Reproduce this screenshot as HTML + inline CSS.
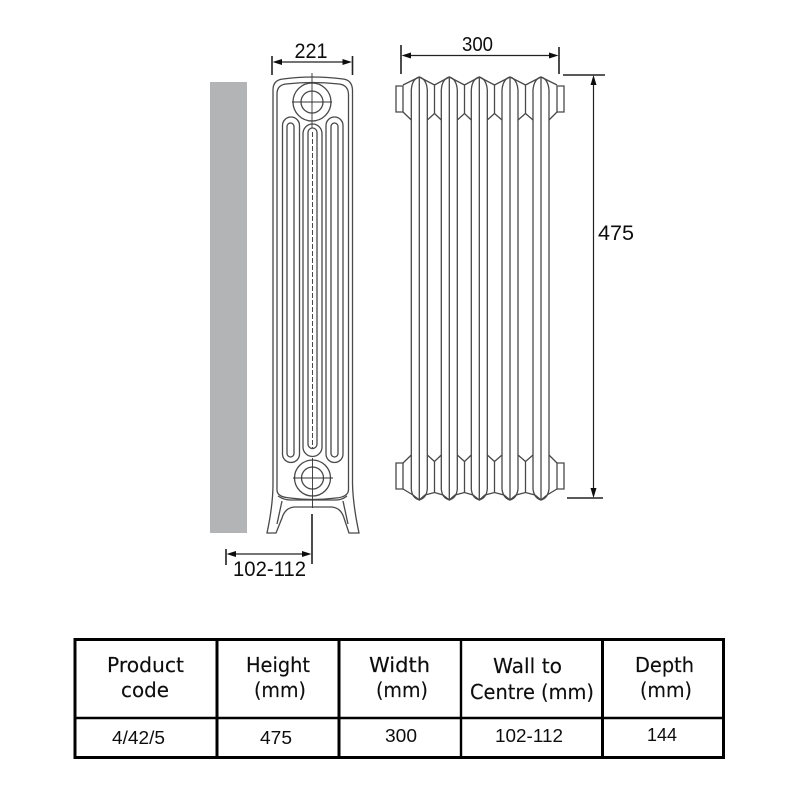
<!DOCTYPE html>
<html>
<head>
<meta charset="utf-8">
<style>
html,body{margin:0;padding:0;background:#fff}
svg{display:block}
.d{font-family:"Liberation Sans",sans-serif;fill:#111}
.h{font-family:"DejaVu Sans",sans-serif;font-size:20px;fill:#111;stroke:#111;stroke-width:.15}
.b{font-family:"Liberation Sans",sans-serif;font-size:18.500px;fill:#111}
.l{fill:none;stroke:#484848;stroke-width:1.3}
.dim{fill:none;stroke:#222;stroke-width:1.2}
.tick{fill:none;stroke:#222;stroke-width:1.6}
.a{fill:#111;stroke:none}
.t{fill:none;stroke:#000;stroke-width:3}
</style>
</head>
<body>
<svg width="800" height="800" viewBox="0 0 800 800" xmlns="http://www.w3.org/2000/svg">
<defs><filter id="s" filterUnits="userSpaceOnUse" x="0" y="0" width="800" height="800"><feGaussianBlur stdDeviation="0.35"/></filter></defs>
<rect width="800" height="800" fill="#fff"/>
<g filter="url(#s)">
<rect x="210" y="82" width="37" height="451" fill="#b3b4b6"/>

<!-- side view -->
<g class="l">
<path d="M273 484V90Q273 80 283 79Q312 75 343 79Q352 80 352.500 90V484"/>
<path d="M277 490V94Q277 85 286 84Q312 81 339 84Q348 85 348.500 94V490"/>
<path d="M277 490Q277 497 290 498Q312 501 336 498Q348 497 348.500 490"/>
<path d="M278 496Q284 500 290 500H336Q342 500 347 496"/>
<circle cx="312" cy="102" r="19"/><circle cx="312" cy="102" r="11"/>
<circle cx="312.500" cy="478" r="18"/><circle cx="312.500" cy="478" r="11"/>
<path d="M282.500 125.500A8.500 8.500 0 0 1 299.500 125.500V454A8.500 8.500 0 0 1 282.500 454Z"/>
<path d="M287 126.500A3.500 3.500 0 0 1 294 126.500V453.500A3.500 3.500 0 0 1 287 453.500Z"/>
<path d="M303 133.500A9.500 9.500 0 0 1 322 133.500V447A9.500 9.500 0 0 1 303 447Z"/>
<path d="M308 132.500A4.500 4.500 0 0 1 317 132.500V444A4.500 4.500 0 0 1 308 444Z"/>
<path d="M326 125.500A8.500 8.500 0 0 1 343 125.500V454A8.500 8.500 0 0 1 326 454Z"/>
<path d="M331 126.500A3.500 3.500 0 0 1 338 126.500V453.500A3.500 3.500 0 0 1 331 453.500Z"/>
<path d="M273 484Q273 505 267 533H276L282 518Q285 508 294 507H332Q341 508 344 518L349 533H359Q353 505 352.500 484"/>
<path d="M282 501L277 524M343 501L348 524"/>
</g>
<g fill="none" stroke="#333" stroke-width="0.9">
<path d="M312 73V128M292 102H332"/>
<path d="M293 478H333M312.500 458V508"/>
<path d="M312.500 132V448" stroke-dasharray="5 2"/>
</g>

<!-- front view -->
<g class="l">
<path d="M419.300 77V500M411.300 90V489M427.300 90V489M411.300 90Q412 79 419.300 77Q426.500 79 427.300 90M411.300 489Q412 498 419.300 500Q426.500 498 427.300 489"/>
<path d="M449.300 77V500M441.300 90V489M457.300 90V489M441.300 90Q442 79 449.300 77Q456.500 79 457.300 90M441.300 489Q442 498 449.300 500Q456.500 498 457.300 489"/>
<path d="M479.300 77V500M471.300 90V489M487.300 90V489M471.300 90Q472 79 479.300 77Q486.500 79 487.300 90M471.300 489Q472 498 479.300 500Q486.500 498 487.300 489"/>
<path d="M510 77V500M502 90V489M518 90V489M502 90Q503 79 510 77Q517 79 518 90M502 489Q503 498 510 500Q517 498 518 489"/>
<path d="M541 77V500M533 90V489M549 90V489M533 90Q534 79 541 77Q548 79 549 90M533 489Q534 498 541 500Q548 498 549 489"/>
<path d="M396 86H403V112H396ZM557 86H564V112H557ZM396 463H403V489H396ZM557 463H564V489H557Z"/>
<path d="M403 85L419.300 77L434.500 85L449.300 77L464.500 85L479.300 77L494.500 85L510 77L525.500 85L541 77L557 85"/>
<path d="M403 489L413 495L419.300 500L425 495L434.500 492.500L443 495L449.300 500L455 495L464.500 492.500L473 495L479.300 500L485 495L494.500 492.500L504 495L510 500L516 495L525.500 492.500L535 495L541 500L547 495L557 489"/>
<path d="M403 112L411.300 120M557 112L549 120M403 463L411.300 455M557 463L549 455"/>
<path d="M434.500 85V113.500M464.500 85V113.500M494.500 85V113.500M525.500 85V113.500"/>
<path d="M434.500 461.500V492.500M464.500 461.500V492.500M494.500 461.500V492.500M525.500 461.500V492.500"/>
<path d="M427.300 120L434.500 113.500L441.300 120M457.300 120L464.500 113.500L471.300 120M487.300 120L494.500 113.500L502 120M518 120L525.500 113.500L533 120"/>
<path d="M427.300 455L434.500 461.500L441.300 455M457.300 455L464.500 461.500L471.300 455M487.300 455L494.500 461.500L502 455M518 455L525.500 461.500L533 455"/>
</g>

<!-- dimensions -->
<path class="tick" d="M272 56V75M352.500 56V75M401 45V74M559 47V74M226 549V565M312 514V564"/>
<path class="dim" d="M276 62H349M405 55.500H555M230 554H309"/>
<path class="tick" d="M563 75H605M567 498H603"/>
<path class="dim" d="M593.500 80V494"/>
<path class="a" d="M272.500 62L282 59V65ZM352 62L342.500 59V65ZM401.500 55.500L411 52.500V58.500ZM558.500 55.500L549 52.500V58.500ZM226.500 554L236 551V557ZM311.500 554L302 551V557ZM593.500 75L590.500 85H596.500ZM593.500 498L590.500 488H596.500Z"/>
<text class="d" x="311" y="58" font-size="21" text-anchor="middle" textLength="33" lengthAdjust="spacingAndGlyphs">221</text>
<text class="d" x="477.500" y="51" font-size="20" text-anchor="middle" textLength="31" lengthAdjust="spacingAndGlyphs">300</text>
<text class="d" x="616" y="240" font-size="21" text-anchor="middle" textLength="36" lengthAdjust="spacingAndGlyphs">475</text>
<text class="d" x="269.500" y="576" font-size="21" text-anchor="middle" textLength="73" lengthAdjust="spacingAndGlyphs">102-112</text>

<!-- table -->
<rect class="t" x="75" y="639.500" width="648.500" height="118"/>
<path class="t" d="M217 640V758M339 640V758M602.500 640V758" />
<path d="M461 640V758M75 718H724" fill="none" stroke="#000" stroke-width="2.400"/>
<text class="h" x="145.500" y="672" text-anchor="middle" textLength="77" lengthAdjust="spacingAndGlyphs">Product</text>
<text class="h" x="145" y="697" text-anchor="middle" textLength="48" lengthAdjust="spacingAndGlyphs">code</text>
<text class="h" x="278" y="672" text-anchor="middle" textLength="64" lengthAdjust="spacingAndGlyphs">Height</text>
<text class="h" x="280" y="697" text-anchor="middle" textLength="52" lengthAdjust="spacingAndGlyphs">(mm)</text>
<text class="h" x="399.500" y="672" text-anchor="middle" textLength="61" lengthAdjust="spacingAndGlyphs">Width</text>
<text class="h" x="402" y="697" text-anchor="middle" textLength="52" lengthAdjust="spacingAndGlyphs">(mm)</text>
<text class="h" x="527.500" y="673" text-anchor="middle" textLength="69" lengthAdjust="spacingAndGlyphs">Wall to</text>
<text class="h" x="532" y="699" text-anchor="middle" textLength="124" lengthAdjust="spacingAndGlyphs">Centre (mm)</text>
<text class="h" x="664.500" y="672" text-anchor="middle" textLength="59" lengthAdjust="spacingAndGlyphs">Depth</text>
<text class="h" x="666" y="697" text-anchor="middle" textLength="52" lengthAdjust="spacingAndGlyphs">(mm)</text>
<text class="b" x="138.500" y="744" text-anchor="middle" textLength="53" lengthAdjust="spacingAndGlyphs">4/42/5</text>
<text class="b" x="276" y="744" text-anchor="middle" textLength="32" lengthAdjust="spacingAndGlyphs">475</text>
<text class="b" x="401" y="742" text-anchor="middle" textLength="32" lengthAdjust="spacingAndGlyphs">300</text>
<text class="b" x="529" y="742" text-anchor="middle" textLength="68" lengthAdjust="spacingAndGlyphs">102-112</text>
<text class="b" x="662" y="741" text-anchor="middle" textLength="30" lengthAdjust="spacingAndGlyphs">144</text>
</g>
</svg>
</body>
</html>
